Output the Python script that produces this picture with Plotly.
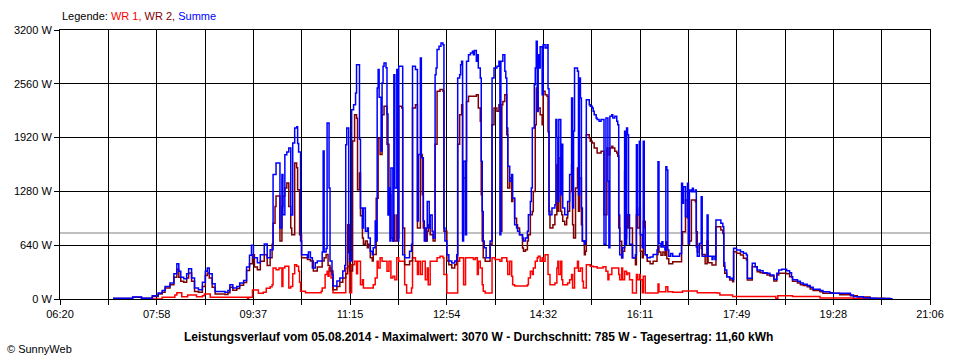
import plotly.graph_objects as go

# ---------------- data (time in minutes after midnight, power in W) ----------------
summe_readings = [(434,10),(454,25),(463,10),(474,40),(480,70),(484,100),(487,150),(492,190),(496,300),(499,420),(501,330),(503,260),(506,240),(509,300),(511,360),(514,250),(517,130),(521,110),(525,200),(528,330),(530,370),(532,300),(535,180),(538,90),(548,80),(551,100),(553,170),(556,130),(560,150),(563,190),(567,220),(570,380),(573,520),(575,640),(577,490),(581,430),(584,527),(588,655),(591,490),(594,587),(597,1480),(600,1618),(604,845),(606,1480),(607,1003),(609,1717),(611,1750),(613,1797),(615,1000),(617,1856),(619,2035),(621,2050),(622,1850),(623,1750),(625,690),(626,527),(632,490),(633,560),(635,490),(637,369),(640,430),(642,452),(647,560),(648,1760),(649,560),(651,600),(652,2094),(654,1320),(655,452),(657,290),(658,155),(662,214),(665,250),(668,333),(670,400),(671,1836),(672,2035),(674,550),(675,452),(677,2252),(679,2311),(681,2451),(682,2788),(685,1900),(686,1083),(688,845),(689,1083),(691,805),(693,845),(694,726),(696,567),(698,527),(699,610),(701,928),(702,690),(703,2510),(704,2729),(705,2400),(707,1760),(708,2570),(709,2769),(710,2808),(712,2750),(713,2200),(714,1000),(715,1320),(716,690),(717,1558),(719,690),(720,2669),(721,1320),(723,2729),(724,690),(725,2769),(729,527),(731,490),(736,567),(738,650),(739,2769),(742,2729),(744,928),(745,1720),(747,2868),(748,1680),(750,928),(751,690),(753,845),(754,1160),(756,845),(757,1000),(759,805),(760,726),(762,2669),(763,2748),(764,2967),(766,3006),(768,3046),(770,3026),(771,845),(772,690),(774,527),(776,452),(779,428),(782,452),(784,527),(785,2629),(787,2669),(788,2788),(789,2828),(790,690),(791,1640),(793,765),(794,2828),(796,2907),(798,2927),(800,2947),(801,2907),(802,2955),(804,2828),(805,2907),(806,2748),(808,2629),(809,1640),(810,1040),(811,690),(812,610),(814,490),(818,690),(820,2629),(822,2748),(825,2769),(827,2828),(828,765),(829,2828),(831,2907),(833,2709),(834,2629),(835,2035),(836,1580),(838,1400),(840,1480),(841,1200),(843,884),(845,845),(846,805),(848,765),(851,726),(852,690),(854,726),(856,805),(857,1003),(859,1160),(860,1320),(861,2035),(863,2550),(864,2748),(865,3066),(866,2230),(867,2907),(868,2748),(869,3000),(871,2430),(872,3026),(874,2987),(876,3026),(877,2500),(878,1003),(881,1083),(884,1120),(885,2134),(886,1920),(887,1160),(888,2134),(890,1240),(891,1840),(892,1083),(894,1003),(897,1160),(899,1480),(901,2391),(902,1083),(903,2000),(904,2748),(907,2709),(908,1240),(909,2630),(910,2391),(911,1083),(912,690),(914,650),(915,690),(916,2371),(919,2312),(920,2292),(922,2272),(923,2232),(924,2193),(926,2154),(927,2134),(929,2114),(931,2134),(934,650),(936,2154),(938,1400),(939,610),(940,2173),(942,2193),(943,2154),(945,2173),(947,2114),(948,2074),(949,1000),(950,527),(952,490),(953,610),(955,1995),(956,650),(957,2035),(958,1955),(959,1003),(960,650),(963,490),(966,527),(967,1836),(968,1003),(970,1876),(971,765),(973,610),(974,1876),(975,845),(976,527),(978,490),(981,500),(984,530),(988,583),(989,1634),(990,660),(992,620),(993,680),(994,620),(996,583),(997,1574),(998,1534),(999,583),(1000,510),(1002,540),(1004,510),(1011,540),(1013,1376),(1014,1138),(1015,1336),(1017,980),(1019,1376),(1020,660),(1021,1297),(1023,1277),(1024,1317),(1025,1277),(1027,1297),(1028,620),(1029,510),(1031,660),(1033,1217),(1034,510),(1039,999),(1040,510),(1044,470),(1045,510),(1047,470),(1048,940),(1051,940),(1053,900),(1055,860),(1056,430),(1057,345),(1059,266),(1062,246),(1065,230),(1066,603),(1069,583),(1073,563),(1076,543),(1079,523),(1080,246),(1085,425),(1088,385),(1090,345),(1093,337),(1096,313),(1100,305),(1103,285),(1107,234),(1110,305),(1112,345),(1115,353),(1120,337),(1123,313),(1125,266),(1126,230),(1131,210),(1134,190),(1137,175),(1141,160),(1144,139),(1147,115),(1154,100),(1157,87),(1164,75),(1167,67),(1185,48),(1188,28),(1198,16),(1205,10),(1212,5),(1225,3),(1228,3)]

wr2_readings = [(434,5),(454,20),(463,8),(474,30),(480,60),(484,80),(487,130),(492,170),(496,260),(499,355),(501,260),(503,210),(506,200),(509,250),(511,310),(514,210),(517,90),(521,80),(525,150),(528,280),(530,310),(532,250),(535,140),(538,60),(548,55),(551,75),(553,140),(556,105),(560,125),(563,165),(567,195),(570,340),(573,420),(576,527),(578,380),(581,349),(584,448),(588,527),(591,400),(594,490),(596,650),(597,900),(599,1100),(600,1225),(604,690),(606,1100),(607,1225),(609,1320),(611,1380),(613,1100),(615,845),(616,765),(619,1618),(621,1560),(622,1300),(624,765),(626,490),(632,470),(635,452),(638,333),(642,380),(647,452),(649,490),(651,530),(653,400),(655,333),(658,111),(662,150),(665,200),(668,250),(671,300),(673,884),(675,333),(678,1880),(680,2193),(682,2150),(683,1300),(685,1500),(686,990),(688,726),(689,650),(691,690),(693,610),(694,650),(696,490),(698,452),(699,530),(702,1200),(704,1916),(706,1720),(708,2193),(710,2292),(713,1840),(715,1240),(717,726),(719,690),(720,1000),(721,690),(723,1000),(724,726),(725,2292),(728,2272),(729,845),(731,408),(736,452),(739,2272),(742,2311),(744,845),(747,1720),(749,1240),(750,845),(752,690),(754,805),(755,884),(757,765),(760,690),(762,1840),(764,2471),(767,2491),(770,2471),(771,805),(774,452),(776,408),(779,369),(782,408),(784,452),(785,1840),(787,2193),(789,2311),(790,765),(791,1440),(793,1640),(794,2350),(796,2411),(804,2431),(806,2272),(808,2114),(809,1240),(810,690),(811,490),(813,448),(818,650),(820,2074),(822,2272),(825,2232),(827,2311),(828,2272),(829,805),(830,2311),(831,2350),(833,2431),(835,1955),(836,1320),(838,1440),(840,1160),(841,1200),(843,960),(845,884),(846,845),(848,765),(851,606),(852,567),(854,587),(856,690),(857,765),(859,1003),(861,1040),(862,1280),(864,2074),(865,2510),(866,2350),(867,2272),(869,2193),(871,2074),(872,2471),(874,2431),(876,2411),(877,1990),(878,1043),(879,845),(882,884),(884,1003),(886,1598),(887,1043),(888,1677),(890,1043),(891,1003),(892,924),(894,884),(896,964),(897,1043),(899,1280),(901,1598),(902,884),(903,726),(905,1320),(907,1558),(908,1043),(909,1440),(911,884),(912,690),(914,527),(915,567),(916,1955),(919,1915),(920,1876),(922,1856),(924,1797),(927,1737),(931,1757),(934,1003),(937,1797),(938,1717),(940,1797),(942,1816),(943,1797),(945,1757),(947,1737),(948,1697),(949,845),(950,686),(952,490),(953,567),(955,1520),(956,726),(957,845),(958,1003),(959,845),(963,490),(966,408),(967,1003),(968,845),(970,1083),(971,567),(973,490),(974,924),(976,527),(978,448),(981,420),(984,448),(988,530),(989,630),(990,560),(992,520),(994,560),(996,520),(997,680),(998,480),(1000,420),(1004,444),(1013,640),(1014,800),(1017,1178),(1019,964),(1020,650),(1021,690),(1023,1178),(1027,1158),(1028,800),(1029,560),(1031,640),(1033,600),(1034,530),(1037,420),(1039,690),(1040,430),(1044,404),(1048,860),(1053,820),(1055,780),(1056,390),(1057,305),(1059,266),(1062,226),(1065,206),(1066,563),(1069,543),(1073,523),(1076,484),(1079,464),(1080,226),(1085,385),(1090,325),(1093,313),(1096,305),(1100,285),(1103,274),(1107,214),(1110,285),(1112,305),(1120,300),(1123,266),(1126,210),(1131,190),(1134,170),(1137,160),(1141,145),(1144,120),(1147,100),(1154,85),(1157,67),(1174,50),(1185,40),(1192,25),(1205,10),(1220,5),(1225,2)]

wr1_readings = [(472,0),(484,20),(497,48),(499,75),(504,28),(510,48),(519,28),(525,40),(527,60),(533,20),(571,0),(572,20),(576,107),(582,67),(587,80),(590,127),(594,146),(596,170),(597,369),(600,349),(603,369),(606,150),(607,369),(609,389),(613,130),(615,150),(617,300),(619,408),(621,389),(623,330),(624,200),(625,92),(630,75),(646,92),(647,130),(650,290),(652,330),(653,270),(654,369),(656,250),(658,75),(671,370),(673,390),(675,75),(677,408),(680,448),(682,300),(683,448),(686,170),(688,230),(689,131),(699,170),(701,250),(703,448),(704,369),(706,490),(708,448),(713,330),(715,448),(717,250),(719,270),(721,230),(723,490),(725,448),(731,170),(733,71),(738,131),(739,490),(742,448),(744,290),(745,448),(747,290),(749,448),(752,230),(754,369),(755,170),(757,448),(764,490),(767,508),(770,490),(771,290),(774,71),(785,448),(787,490),(791,170),(793,490),(801,470),(803,490),(805,290),(806,448),(808,369),(810,170),(811,92),(813,71),(820,490),(823,470),(828,448),(830,490),(835,448),(836,290),(838,448),(840,270),(841,170),(843,155),(856,170),(857,250),(859,330),(861,290),(862,369),(864,448),(866,490),(867,508),(869,448),(871,490),(872,448),(874,527),(877,290),(879,170),(884,190),(886,369),(887,448),(888,290),(890,448),(891,230),(892,170),(897,190),(899,230),(901,290),(902,131),(904,369),(907,448),(908,330),(910,369),(912,210),(913,131),(916,408),(920,390),(923,385),(927,369),(933,385),(936,330),(938,230),(939,290),(942,369),(949,290),(950,230),(952,369),(953,230),(955,330),(957,290),(958,310),(960,230),(963,71),(967,290),(968,230),(970,290),(971,230),(973,75),(974,270),(976,71),(989,178),(990,87),(997,146),(999,87),(1004,80),(1014,95),(1029,75),(1049,70),(1052,48),(1065,30),(1109,5),(1111,38),(1126,30),(1154,12),(1188,3),(1205,0)]

average_w = 785
x_start, x_end = 380, 1266            # 06:20 .. 21:06
y_ticks = [0, 640, 1280, 1920, 2560, 3200]
tick_labels = ["06:20", "07:58", "09:37", "11:15", "12:54", "14:32", "16:11", "17:49", "19:28", "21:06"]
title_text = "Leistungsverlauf vom 05.08.2014 - Maximalwert: 3070 W - Durchschnitt: 785 W - Tagesertrag: 11,60 kWh"

t_summe, p_summe = zip(*summe_readings)
t_wr2, p_wr2 = zip(*wr2_readings)
t_wr1, p_wr1 = zip(*wr1_readings)

# grid every half label step
n_grid = 2 * (len(tick_labels) - 1)
grid_vals = [x_start + i * (x_end - x_start) / n_grid for i in range(n_grid + 1)]
grid_text = [tick_labels[i // 2] if i % 2 == 0 else "" for i in range(n_grid + 1)]

FONT = "Liberation Sans, Arial, sans-serif"

fig = go.Figure()
fig.add_trace(go.Scatter(x=t_wr1, y=p_wr1, mode="lines", name="WR 1",
                         line=dict(color="#FF0000", width=1.5, shape="hv")))
fig.add_trace(go.Scatter(x=t_wr2, y=p_wr2, mode="lines", name="WR 2",
                         line=dict(color="#800000", width=1.5, shape="hv")))
fig.add_trace(go.Scatter(x=t_summe, y=p_summe, mode="lines", name="Summe",
                         line=dict(color="#0000FF", width=1.5, shape="hv")))

fig.add_shape(type="line", xref="paper", x0=0, x1=1, yref="y", y0=average_w, y1=average_w,
              line=dict(color="#808080", width=1), layer="between")

axis_common = dict(showgrid=True, gridcolor="#000000", gridwidth=1, zeroline=False,
                   showline=True, linecolor="#000000", linewidth=1, mirror=True,
                   ticks="outside", ticklen=5, tickcolor="#000000",
                   tickfont=dict(family=FONT, size=11, color="#000000"))

fig.update_layout(
    width=960, height=360, autosize=False,
    margin=dict(l=60, r=30, t=30, b=61, pad=0),
    paper_bgcolor="white", plot_bgcolor="white",
    showlegend=False,
    xaxis=dict(range=[x_start, x_end], tickmode="array", tickvals=grid_vals, ticktext=grid_text,
               **axis_common),
    yaxis=dict(range=[0, 3200], tickmode="array", tickvals=y_ticks,
               ticktext=[f"{v} W" for v in y_ticks], **axis_common),
    annotations=[
        dict(xref="paper", yref="paper", x=0, y=1.052, xanchor="left", yanchor="middle",
             showarrow=False, font=dict(family=FONT, size=11, color="#000000"),
             text="Legende: <span style='color:#FF0000'>WR 1,</span> "
                  "<span style='color:#800000'>WR 2,</span> "
                  "<span style='color:#0000FF'>Summe</span>"),
        dict(xref="paper", yref="paper", x=0.4816, y=-0.141, xanchor="center", yanchor="middle",
             showarrow=False, font=dict(family=FONT, size=12, color="#000000"),
             text="<b>" + title_text + "</b>"),
        dict(xref="paper", yref="paper", x=-0.0632, y=-0.186, xanchor="left", yanchor="middle",
             showarrow=False, font=dict(family=FONT, size=11, color="#000000"),
             text="© SunnyWeb"),
    ],
)

fig.write_html("out.html", config={"displayModeBar": False},
               post_script="document.body.style.margin='0';")
